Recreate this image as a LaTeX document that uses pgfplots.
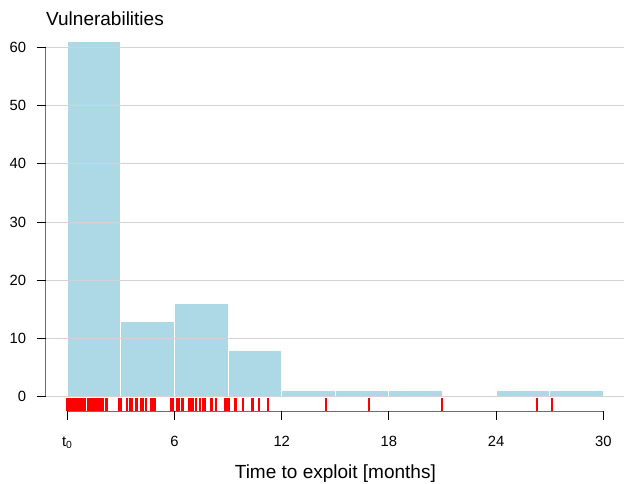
\documentclass[border=0pt]{standalone}
\usepackage{fontspec}
\setmainfont{Liberation Sans}
\usepackage{pgfplots}
\pgfplotsset{compat=1.18}
\definecolor{barblue}{RGB}{173,216,230}
\definecolor{gridgray}{RGB}{211,211,211}
\definecolor{axgray}{RGB}{110,110,110}
\definecolor{rugred}{RGB}{255,0,0}
\begin{document}
\begin{tikzpicture}
\useasboundingbox (-46pt,-72pt) rectangle (578pt,411pt);
\begin{axis}[
  at={(0,0)}, anchor=south west,
  scale only axis, width=578pt, height=372.4pt,
  xmin=-1.19, xmax=31.15, ymin=-2.456, ymax=61.5,
  axis x line*=bottom, axis y line*=left,
  x axis line style={draw=none}, y axis line style={draw=none},
  axis on top, clip=false,
  ymajorgrids, grid style={line width=1pt, gridgray},
  tick align=outside, major tick length=9pt,
  tick style={black, line width=1pt},
  xtick={0,6,12,18,24,30},
  xticklabels={t\textsubscript{0},6,12,18,24,30},
  ytick={0,10,20,30,40,50,60},
  yticklabels={0,10,20,30,40,50,60},
  ticklabel style={font=\fontsize{14.8}{17}\selectfont},
  xticklabel style={anchor=base, inner sep=0pt, yshift=-26.7pt},
  yticklabel style={anchor=east, xshift=-7.3pt},
  minor tick num=0,
]
\addplot[ybar interval, fill=barblue, draw=white, line width=1pt] coordinates {
  (0,61) (3,13) (6,16) (9,8) (12,1) (15,1) (18,1) (21,0) (24,1) (27,1) (30,1)
};
\addplot[draw=none, mark=none,
  error bars/.cd, y dir=both, y fixed=1.14,
  error mark=none, error bar style={rugred, line width=2pt}] table[y expr=-1.314] {
x
0
0.02
0.05
0.07
0.1
0.12
0.15
0.17
0.2
0.22
0.25
0.28
0.3
0.33
0.35
0.38
0.4
0.42
0.45
0.48
0.5
0.52
0.55
0.58
0.6
0.62
0.65
0.68
0.7
0.72
0.75
0.78
0.8
0.82
0.85
0.87
0.9
0.92
0.95
0.98
1.15
1.2
1.27
1.33
1.4
1.45
1.57
1.62
1.68
1.72
1.78
1.83
1.88
1.93
1.98
2.17
2.2
2.87
2.92
2.97
3.0
3.32
3.5
3.6
3.85
3.9
4.1
4.22
4.4
4.7
4.8
4.9
5.82
5.9
6.15
6.27
6.4
6.5
6.8
6.95
7.05
7.2
7.42
7.58
7.68
8.02
8.12
8.32
8.85
8.92
9.07
9.38
9.45
9.85
10.33
10.4
10.74
11.21
14.5
16.9
20.97
26.27
27.1
};
\draw[axgray, line width=1pt] (axis cs:-1.19,0) -- (axis cs:-1.19,60);
\draw[axgray, line width=1pt] (axis cs:0,-2.456) -- (axis cs:30,-2.456);
\node[anchor=base west, inner sep=0pt, font=\fontsize{19}{22}\selectfont] at (axis cs:-1.19,63.83) {Vulnerabilities};
\node[anchor=base, inner sep=0pt, font=\fontsize{19}{22}\selectfont] at (axis cs:15,-14.01) {Time to exploit [months]};
\end{axis}
\end{tikzpicture}
\end{document}
